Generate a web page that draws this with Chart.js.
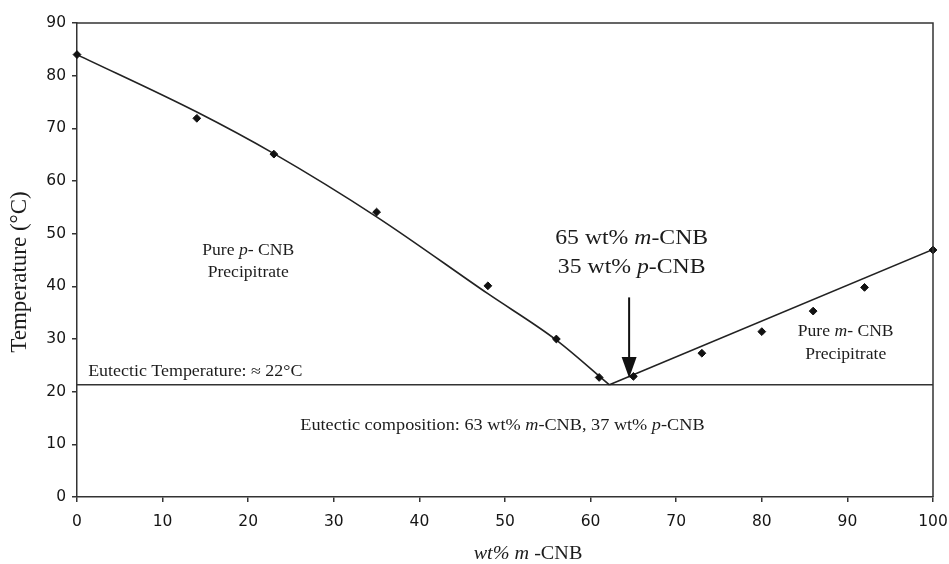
<!DOCTYPE html>
<html>
<head>
<meta charset="utf-8">
<script src="https://cdn.jsdelivr.net/npm/chart.js@4.4.1/dist/chart.umd.min.js"></script>
<style>
html, body { margin: 0; padding: 0; background: #fff; }
#wrap { width: 949px; height: 564px; }
</style>
</head>
<body>
<div id="wrap"><canvas id="phaseChart" width="949" height="564"></canvas></div>
<script>
// measured liquidus points (wt% m-CNB vs. temperature)
const compWt = [0, 14, 23, 35, 48, 56, 61, 65, 73, 80, 86, 92, 100];
const tempC = [84, 71.9, 65.1, 54.1, 40.1, 30.0, 22.7, 22.9, 27.3, 31.4, 35.3, 39.8, 46.9];

// fitted liquidus, p-CNB branch and m-CNB branch
const fitPX = [0, 14, 23, 35, 48, 56, 62.2];
const fitPY = [84, 73.1, 65.2, 53.2, 38.6, 29.8, 21.3];
const fitMX = [62.2, 100];
const fitMY = [21.3, 47];

const eutecticT = 21.3;

const xTicks = [0, 10, 20, 30, 40, 50, 60, 70, 80, 90, 100];
const yTicks = [0, 10, 20, 30, 40, 50, 60, 70, 80, 90];

const INK = '#1c1c1c';
const SERIF = '"Liberation Serif", "Times New Roman", serif';

function toPoints(xs, ys) {
    return xs.map((x, i) => ({ x: x, y: ys[i] }));
}

// text with _italic_ runs, stretched horizontally by sx
function drawRich(ctx, markup, x, y, size, align, sx) {
    const parts = markup.split('_');
    const fontFor = i => (i % 2 ? 'italic ' : '') + size + 'px ' + SERIF;
    let total = 0;
    const widths = parts.map((t, i) => {
        ctx.font = fontFor(i);
        const w = ctx.measureText(t).width;
        total += w;
        return w;
    });
    let x0 = x;
    if (align === 'center') x0 = x - total * sx / 2;
    else if (align === 'right') x0 = x - total * sx;
    ctx.save();
    ctx.translate(x0, y);
    ctx.scale(sx, 1);
    ctx.textAlign = 'left';
    ctx.textBaseline = 'middle';
    ctx.fillStyle = INK;
    let cx = 0;
    parts.forEach((t, i) => {
        ctx.font = fontFor(i);
        ctx.fillText(t, cx, 0);
        cx += widths[i];
    });
    ctx.restore();
}

const notesPlugin = {
    id: 'notes',
    afterDraw(chart) {
        const ctx = chart.ctx;
        const a = chart.chartArea;
        const xs = chart.scales.x;
        const ys = chart.scales.y;
        const px = v => xs.getPixelForValue(v);
        const py = v => ys.getPixelForValue(v);

        // frame on top and right
        ctx.save();
        ctx.strokeStyle = '#333';
        ctx.lineWidth = 1.5;
        ctx.beginPath();
        ctx.moveTo(a.left, a.top);
        ctx.lineTo(a.right, a.top);
        ctx.lineTo(a.right, a.bottom);
        ctx.stroke();
        ctx.restore();

        drawRich(ctx, 'Pure _p_- CNB', px(20), py(46.7), 16, 'center', 1.1);
        drawRich(ctx, 'Precipitrate', px(20), py(42.6), 16, 'center', 1.1);
        drawRich(ctx, 'Eutectic Temperature: \u2248 22\u00b0C', px(1.3), py(23.8), 16, 'left', 1.12);
        drawRich(ctx, 'Eutectic composition: 63 wt% _m_-CNB, 37 wt% _p_-CNB', px(49.7), py(13.5), 16, 'center', 1.14);
        drawRich(ctx, '65 wt% _m_-CNB', px(64.8), py(49.0), 21, 'center', 1.13);
        drawRich(ctx, '35 wt% _p_-CNB', px(64.8), py(43.5), 21, 'center', 1.13);
        drawRich(ctx, 'Pure _m_- CNB', px(89.8), py(31.3), 16, 'center', 1.1);
        drawRich(ctx, 'Precipitrate', px(89.8), py(27.0), 16, 'center', 1.1);

        // arrow pointing down at the composition
        const ax = px(64.5);
        const y0 = py(37.9);
        const tip = py(22.6);
        ctx.save();
        ctx.strokeStyle = '#111';
        ctx.fillStyle = '#111';
        ctx.lineWidth = 2;
        ctx.beginPath();
        ctx.moveTo(ax, y0);
        ctx.lineTo(ax, tip - 18);
        ctx.stroke();
        ctx.beginPath();
        ctx.moveTo(ax - 7.5, tip - 21);
        ctx.lineTo(ax + 7.5, tip - 21);
        ctx.lineTo(ax, tip);
        ctx.closePath();
        ctx.fill();
        ctx.restore();

        // axis titles
        ctx.save();
        ctx.translate(20, 272);
        ctx.rotate(-Math.PI / 2);
        drawRich(ctx, 'Temperature (\u00b0C)', 0, 0, 23, 'center', 1);
        ctx.restore();
        drawRich(ctx, '_wt% m_ -CNB', 528, 554, 18, 'center', 1.12);
    }
};

const axisCommon = {
    type: 'linear',
    grid: { drawOnChartArea: false, tickLength: 5, color: '#333', lineWidth: 1.5 },
    border: { color: '#333', width: 1.5 },
    ticks: {
        font: { family: '"DejaVu Sans", Arial, sans-serif', size: 15.5 },
        color: '#151515',
        autoSkip: false,
        maxRotation: 0
    }
};

const ctx = document.getElementById('phaseChart').getContext('2d');
new Chart(ctx, {
    type: 'scatter',
    data: {
        datasets: [
            {
                label: 'measured',
                data: toPoints(compWt, tempC),
                pointStyle: 'rectRot',
                pointRadius: 3.9,
                backgroundColor: '#111',
                borderColor: '#111',
                borderWidth: 1,
                showLine: false,
                clip: false
            },
            {
                label: 'fit p-CNB',
                type: 'line',
                data: toPoints(fitPX, fitPY),
                borderColor: '#222',
                borderWidth: 1.6,
                pointRadius: 0,
                cubicInterpolationMode: 'monotone',
                fill: false
            },
            {
                label: 'fit m-CNB',
                type: 'line',
                data: toPoints(fitMX, fitMY),
                borderColor: '#222',
                borderWidth: 1.6,
                pointRadius: 0,
                fill: false
            },
            {
                label: 'eutectic',
                type: 'line',
                data: toPoints([0, 100], [eutecticT, eutecticT]),
                borderColor: '#333',
                borderWidth: 1.6,
                pointRadius: 0,
                fill: false
            }
        ]
    },
    options: {
        responsive: false,
        animation: false,
        events: [],
        layout: { padding: { top: 23, right: 16, left: 0, bottom: 0 } },
        plugins: { legend: { display: false }, tooltip: { enabled: false } },
        scales: {
            x: Object.assign({}, axisCommon, {
                min: 0,
                max: 100,
                afterBuildTicks: s => { s.ticks = xTicks.map(v => ({ value: v })); },
                afterFit: s => { s.height = 67; s.paddingLeft = 0; s.paddingRight = 0; },
                ticks: Object.assign({}, axisCommon.ticks, { padding: 11 })
            }),
            y: Object.assign({}, axisCommon, {
                min: 0,
                max: 90,
                afterBuildTicks: s => { s.ticks = yTicks.map(v => ({ value: v })); },
                afterFit: s => { s.width = 77; s.paddingTop = 0; s.paddingBottom = 0; },
                ticks: Object.assign({}, axisCommon.ticks, { padding: 6 })
            })
        }
    },
    plugins: [notesPlugin]
});
</script>
</body>
</html>
